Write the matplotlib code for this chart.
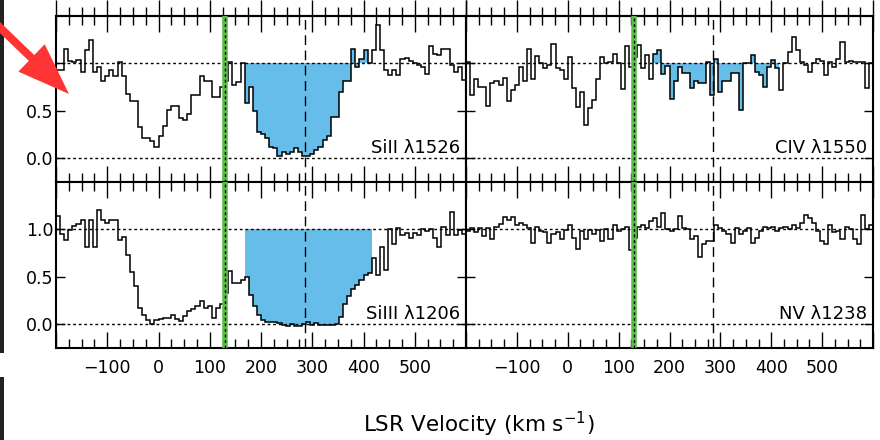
import numpy as np
import matplotlib
matplotlib.use('Agg')
import matplotlib.pyplot as plt
from matplotlib.patches import FancyArrow, Rectangle
from matplotlib.ticker import MultipleLocator
from matplotlib.transforms import blended_transform_factory

plt.rcParams['font.family'] = ['DejaVu Sans']

# velocity grid (km/s), 8 km/s bins
vel_edges = np.arange(-200, 601, 8)

# normalised flux per bin
flux_siII = [
    0.93, 0.93, 1.15, 1.03, 1.02, 1.04, 0.91, 1.14, 1.25, 0.91,
    0.96, 0.82, 0.87, 0.93, 0.87, 1.02, 0.87, 0.68, 0.60, 0.60,
    0.33, 0.21, 0.21, 0.18, 0.12, 0.23, 0.34, 0.51, 0.55, 0.55,
    0.42, 0.40, 0.47, 0.67, 0.67, 0.87, 0.81, 0.81, 0.65, 0.65,
    0.75, 0.82, 1.01, 0.77, 0.80, 1.00, 0.58, 0.75, 0.50, 0.28,
    0.26, 0.21, 0.12, 0.11, 0.02, 0.07, 0.04, 0.07, 0.11, 0.07,
    0.02, 0.02, 0.05, 0.09, 0.12, 0.19, 0.23, 0.44, 0.44, 0.70,
    0.82, 0.82, 1.15, 0.96, 1.05, 1.14, 1.00, 1.14, 1.41, 1.14,
    0.93, 0.88, 0.93, 0.88, 1.05, 1.06, 1.03, 1.00, 0.98, 0.96,
    0.89, 1.18, 1.10, 1.09, 1.15, 1.15, 0.98, 0.91, 0.96, 0.83,
]
flux_civ = [
    1.02, 0.67, 0.84, 0.75, 0.75, 0.55, 0.79, 0.82, 0.77, 0.85,
    0.60, 0.72, 0.77, 0.96, 0.82, 1.15, 0.84, 1.08, 1.00, 0.95,
    0.98, 1.21, 0.95, 0.93, 0.84, 1.07, 0.74, 0.54, 0.70, 0.35,
    0.53, 0.61, 0.84, 1.07, 1.00, 1.01, 1.10, 1.00, 0.73, 1.18,
    0.96, 1.07, 1.19, 0.95, 1.09, 0.84, 1.10, 1.14, 0.89, 0.97,
    0.63, 0.81, 0.96, 0.90, 0.90, 0.74, 0.81, 0.79, 0.79, 1.02,
    0.67, 1.05, 0.70, 0.82, 0.82, 0.90, 0.90, 0.51, 1.00, 1.00,
    1.09, 0.91, 0.88, 0.75, 0.96, 1.04, 0.95, 0.72, 1.00, 1.12,
    1.28, 1.14, 1.02, 0.98, 0.91, 1.00, 1.05, 1.03, 0.88, 1.02,
    0.96, 1.05, 1.23, 1.02, 1.03, 1.02, 1.02, 1.02, 0.74, 1.00,
]
flux_siIII = [
    1.14, 0.95, 0.89, 0.99, 1.04, 1.06, 1.10, 0.82, 1.10, 0.82,
    1.20, 1.10, 1.07, 1.10, 1.10, 0.89, 0.92, 0.73, 0.55, 0.40,
    0.17, 0.10, 0.05, 0.00, 0.05, 0.06, 0.07, 0.07, 0.10, 0.06,
    0.03, 0.09, 0.14, 0.16, 0.19, 0.25, 0.17, 0.19, 0.07, 0.17,
    0.21, 0.33, 0.56, 0.44, 0.44, 0.47, 0.50, 0.31, 0.19, 0.10,
    0.05, 0.02, 0.02, 0.02, 0.01, -0.01, -0.02, 0.00, -0.02, -0.02,
    0.00, 0.02, -0.01, 0.01, -0.01, -0.01, -0.01, -0.01, 0.00, 0.08,
    0.21, 0.30, 0.37, 0.41, 0.47, 0.52, 0.54, 0.70, 0.52, 0.82,
    0.57, 1.00, 0.85, 1.01, 0.94, 0.96, 0.91, 0.96, 0.94, 1.00,
    0.98, 1.00, 0.91, 0.82, 1.03, 0.94, 1.18, 0.94, 0.99, 0.95,
]
flux_nv = [
    0.98, 1.02, 0.97, 1.02, 0.93, 1.02, 0.90, 1.03, 1.06, 1.13,
    1.10, 1.13, 1.05, 1.07, 1.05, 1.02, 0.86, 1.03, 0.98, 0.97,
    0.86, 0.95, 0.97, 0.90, 0.99, 1.05, 0.91, 0.79, 0.98, 0.90,
    0.99, 0.95, 0.99, 0.88, 1.00, 0.90, 1.05, 0.98, 1.00, 1.03,
    0.78, 0.91, 1.03, 1.05, 1.02, 1.09, 1.12, 1.03, 1.17, 1.00,
    0.98, 1.00, 1.14, 1.02, 1.00, 0.90, 0.93, 0.71, 0.85, 0.88,
    0.88, 1.05, 1.02, 0.98, 0.95, 0.86, 1.02, 0.95, 0.98, 1.02,
    0.86, 0.91, 0.98, 1.03, 1.02, 1.03, 0.98, 1.02, 1.03, 1.00,
    1.05, 1.02, 1.07, 1.15, 1.12, 1.07, 0.98, 0.88, 0.85, 1.05,
    0.97, 0.98, 0.90, 1.03, 1.00, 0.90, 0.85, 1.15, 1.00, 1.05,
]

line_labels = ['SiII λ1526', 'CIV λ1550', 'SiIII λ1206', 'NV λ1238']
shaded = [True, True, True, False]
fill_range = (168, 416)   # km/s window of the shaded absorption
v_green = 130
v_dashed = 285
x_major = np.arange(-200, 601, 100)

BLUE = '#67BDEA'
GREEN = '#58BE47'

fig = plt.figure(figsize=(8.8, 4.4), dpi=100)

# panel boxes in pixels (left, top, right, bottom) -> fig fractions
W, H = 880., 440.
boxes = [(56, 16, 466, 182), (466, 16, 873, 182),
         (56, 182, 466, 348), (466, 182, 873, 348)]
fluxes = [flux_siII, flux_civ, flux_siIII, flux_nv]

in_fill = (vel_edges[:-1] >= fill_range[0]) & (vel_edges[1:] <= fill_range[1])
i0 = np.argmax(in_fill)
i1 = len(in_fill) - np.argmax(in_fill[::-1])

for k, (box, flux) in enumerate(zip(boxes, fluxes)):
    l, t, r, b = box
    ax = fig.add_axes([l / W, 1 - b / H, (r - l) / W, (b - t) / H])
    flux = np.asarray(flux)

    if shaded[k]:
        ax.stairs(flux[i0:i1], vel_edges[i0:i1 + 1], baseline=1.0, fill=True,
                  color=BLUE, lw=0, zorder=1)
    for yv in (0.0, 1.0):
        ax.axhline(yv, color='k', lw=1.0, ls=(0, (2, 2)), zorder=2)
    ax.axvline(v_dashed, color='k', lw=1.0, ls=(0, (7, 4)), zorder=2)
    ax.stairs(flux, vel_edges, color='k', lw=1.1, zorder=3)
    ax.axvline(v_green, color=GREEN, lw=4, zorder=4)
    ax.axvline(v_green, color='k', lw=1.0, ls=(0, (2, 2)), zorder=5)

    # label sits on the zero line, right-aligned
    ax.text(0.985, 0.012, line_labels[k], fontsize=13, ha='right', va='bottom',
            transform=blended_transform_factory(ax.transAxes, ax.transData),
            zorder=6)

    ax.set_xlim(-200, 600)
    ax.set_ylim(-0.25, 1.5)
    ax.set_xticks(x_major)
    ax.xaxis.set_minor_locator(MultipleLocator(25))
    ax.set_yticks([0.0, 0.5, 1.0])

    for sp in ax.spines.values():
        sp.set_linewidth(1.5)
    ax.tick_params(which='both', direction='in', top=True, right=True,
                   width=1.0, labelsize=12.5)
    ax.tick_params(axis='x', which='major', length=11.5, pad=8)
    ax.tick_params(axis='x', which='minor', length=6.5)
    ax.tick_params(axis='y', which='major', length=6.5, pad=2)

    if k < 2:
        ax.tick_params(axis='x', which='both', labelbottom=False, top=False)
        # ticks of the (cropped) panel above poke through the top frame
        sec = ax.secondary_xaxis('top')
        sec.set_xticks(x_major)
        sec.xaxis.set_minor_locator(MultipleLocator(25))
        sec.tick_params(which='major', direction='inout', length=23, width=1.0,
                        labeltop=False)
        sec.tick_params(which='minor', direction='inout', length=13, width=1.0)
        sec.spines['top'].set_linewidth(1.5)
    else:
        ax.set_xticklabels(['' if v in (-200, 600) else str(v).replace('-', '\u2212')
                            for v in x_major])
    if k % 2 == 1:
        ax.tick_params(axis='y', labelleft=False)
    else:
        ax.set_yticklabels(['0.0', '0.5', '1.0'])

fig.text(479 / W, 1 - 432 / H, 'LSR Velocity (km s$^{-1}$)', fontsize=15.5,
         ha='center', va='baseline')

# dark bars along the left edge
fig.add_artist(Rectangle((0, 1 - 353 / H), 4 / W, 353 / H, transform=fig.transFigure,
                         color='#222222', lw=0, zorder=8))
fig.add_artist(Rectangle((0, 0), 4 / W, 1 - 377 / H, transform=fig.transFigure,
                         color='#222222', lw=0, zorder=8))

# red pointer arrow (inches)
fig.add_artist(FancyArrow(-0.10, 4.40 - 0.18, 0.79, -0.76, width=0.08,
                          head_width=0.38, head_length=0.52,
                          length_includes_head=True, color='#FF3535', lw=0,
                          transform=fig.dpi_scale_trans, zorder=10))

fig.savefig('out.png', dpi=100)
